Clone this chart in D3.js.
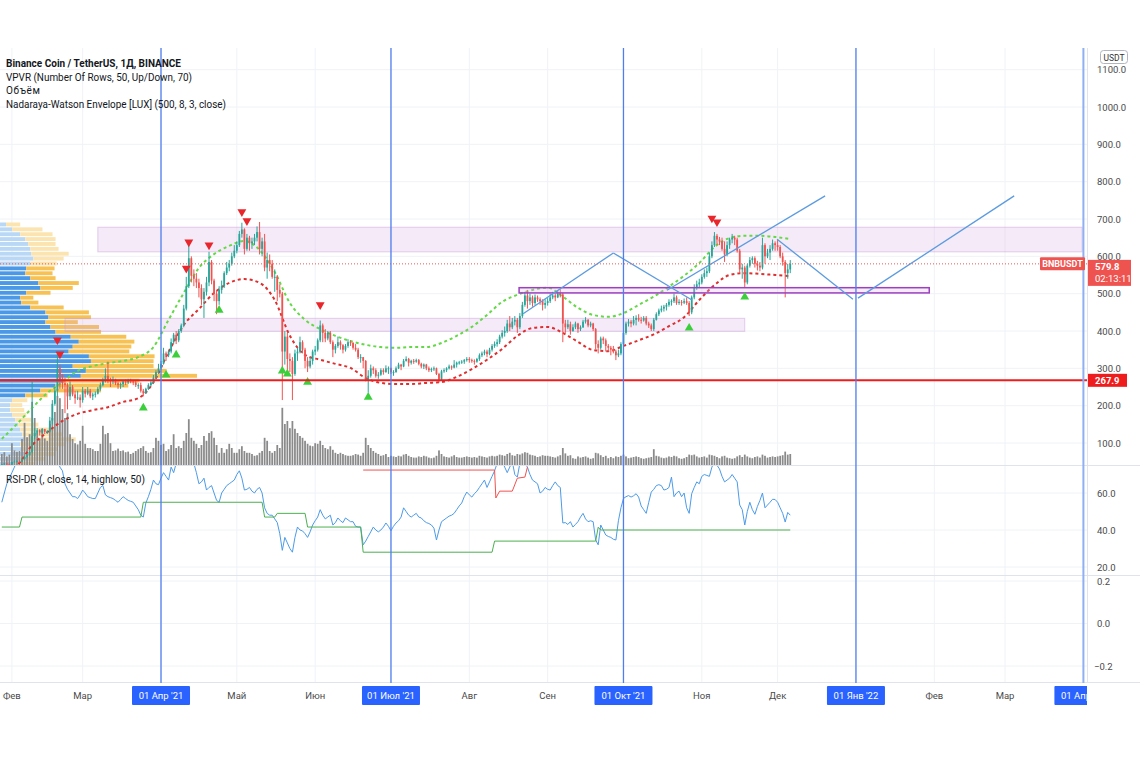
<!DOCTYPE html>
<html><head><meta charset="utf-8">
<script src="https://cdn.jsdelivr.net/npm/d3@7"></script>
<style>
html,body{margin:0;padding:0;background:#fff;}
svg{display:block;font-family:Roboto,"Noto Sans",sans-serif;}
</style></head><body>
<svg id="chart" width="1140" height="760"></svg>
<script>
// ---------------- DATA ----------------
const startDate = "2021-01-28"; // first daily candle, last = 2021-12-06
const closes = [43,45,44,42,
49,51,51,50,57,63,67,76,118,127,134,128,137,130,131,160,205,240,300,270,260,255,225,250,230,220,222,215,
240,232,240,225,230,232,245,255,268,280,270,265,270,260,255,258,265,262,268,265,262,255,255,240,233,245,255,262,275,290,300,
312,340,335,345,370,390,375,400,415,460,520,595,548,540,530,515,485,505,530,585,535,500,480,510,520,555,570,580,600,615,
630,660,672,620,650,635,640,650,665,620,640,570,590,580,545,545,510,500,345,385,325,320,285,340,345,370,350,320,305,320,345,
350,375,415,395,380,395,370,350,360,370,362,350,360,370,368,355,350,330,330,320,270,280,300,295,280,283,295,290,300,300,
290,290,300,310,305,320,325,315,320,318,322,312,305,310,300,295,298,300,285,270,292,295,300,305,302,310,315,316,318,322,325,
322,320,318,325,335,340,345,338,350,360,365,370,385,395,400,420,410,425,430,410,440,470,495,480,490,475,490,485,480,470,475,
480,490,495,490,500,498,420,410,418,400,410,420,405,410,425,430,415,420,405,365,355,380,375,360,355,350,345,335,340,365,
395,420,425,420,430,435,430,428,435,420,415,405,430,445,455,460,465,470,478,480,490,475,478,476,480,475,450,490,515,525,530,
545,555,560,600,630,655,645,640,620,605,630,645,650,645,615,565,570,530,575,590,595,580,575,570,630,600,610,620,635,630,
625,600,585,555,565,579.8];
const highs = [44,46,46,45,
50,53,53,53,58,64,70,78,265,140,140,137,140,138,134,170,215,250,345,310,285,275,260,265,255,240,240,230,
250,245,250,245,235,238,250,262,275,300,318,275,278,272,265,262,268,270,272,272,268,268,260,262,245,248,260,268,282,295,312,
320,355,345,350,380,395,400,405,420,470,545,635,600,565,555,540,525,515,545,612,590,540,510,520,535,560,585,590,610,630,
640,668,690,675,660,655,650,660,680,692,650,660,610,605,590,565,550,525,505,400,395,340,330,350,355,385,375,355,330,330,350,
360,380,428,420,405,400,400,375,365,385,375,365,365,378,375,370,365,355,338,330,322,295,310,305,300,290,300,300,308,305,
302,295,305,315,312,325,332,328,323,325,326,325,315,313,312,305,302,305,302,288,296,300,303,310,308,322,318,320,322,325,330,
330,326,324,328,340,345,350,350,355,365,372,378,390,402,412,430,440,435,440,435,448,478,505,510,500,495,498,495,490,485,485,
488,500,505,500,508,512,502,430,430,425,418,425,422,415,430,437,432,425,422,408,375,385,385,380,365,360,360,350,350,370,
400,425,432,430,440,442,445,438,440,440,425,420,435,450,460,468,470,475,485,485,500,495,485,483,487,490,480,495,525,535,540,
552,565,570,610,640,665,660,652,650,640,640,650,660,655,650,620,580,575,580,598,600,600,588,585,650,635,620,630,645,640,
645,630,610,590,580,590];
const lows = [38,42,42,40,
41,48,49,48,49,56,61,67,73,110,122,120,125,124,125,128,150,200,225,245,245,180,190,215,225,205,215,195,
208,222,228,220,215,222,230,240,252,262,260,250,258,255,245,245,250,255,258,260,255,250,245,235,225,232,242,252,258,272,285,
296,310,320,330,340,365,365,370,395,410,455,515,530,520,515,490,470,435,495,520,525,480,445,470,500,515,550,560,575,595,
608,625,650,605,615,615,620,630,640,605,600,560,540,560,540,505,480,490,215,310,290,290,215,280,320,340,340,300,290,300,310,
335,345,370,370,370,375,365,330,340,355,350,340,345,355,360,350,345,325,315,300,265,235,275,285,275,272,280,283,288,285,
285,280,288,298,295,303,318,305,310,312,315,308,300,298,295,290,290,293,282,262,268,288,290,297,296,300,302,310,312,312,318,
315,315,310,315,320,330,335,330,335,345,355,358,365,380,385,395,400,405,415,395,405,435,465,460,470,465,470,478,470,455,460,
468,475,485,480,488,490,370,395,405,390,398,405,395,400,408,420,410,410,400,350,340,350,365,345,345,335,340,322,330,335,
360,390,412,410,415,415,425,420,425,415,408,400,400,428,440,450,452,455,465,468,475,470,470,468,472,470,440,445,485,510,515,
525,540,545,555,595,625,630,630,615,585,600,620,635,630,610,555,540,515,525,570,580,570,562,560,565,580,595,590,615,615,
615,595,575,490,540,555];
// volume, million BNB
const volumes = [2.0,2.3,1.6,1.9,
3.8,2.6,2.4,2.5,4.5,7.2,4.8,5.3,10.7,8.0,5.5,4.6,6.2,4.6,4.2,7.0,8.0,9.0,11.7,11.3,9.5,8.0,8.8,5.3,4.5,3.8,3.6,4.2,
6.7,3.7,3.0,3.0,2.8,2.5,2.5,3.7,6.7,5.3,5.5,3.8,2.5,2.6,2.9,2.5,2.6,2.3,2.4,2.0,2.2,2.5,2.8,3.0,3.3,2.5,2.2,2.3,3.0,4.7,4.2,
3.5,3.7,2.5,2.8,3.5,5.3,3.0,3.3,3.0,4.2,5.5,7.8,4.7,4.2,3.7,3.0,3.5,5.0,4.2,5.5,5.8,4.7,3.5,2.2,3.0,2.2,2.8,3.7,3.0,2.2,
2.2,2.8,3.3,2.5,2.2,2.2,2.0,1.7,1.8,2.2,2.5,4.7,4.2,2.5,2.2,2.5,3.5,3.0,9.7,7.0,7.5,6.3,7.5,6.2,5.5,5.0,4.7,4.2,3.7,3.4,3.3,
3.8,3.7,4.2,3.5,3.0,2.8,3.3,2.7,2.2,2.0,2.2,2.0,1.8,1.7,1.7,1.8,2.0,1.9,1.7,2.2,4.7,3.5,3.0,2.5,2.2,2.0,1.7,1.8,2.0,1.5,
1.7,1.6,1.5,1.7,1.6,1.9,2.0,1.7,1.5,1.4,1.4,1.6,1.5,1.7,1.6,1.4,1.3,1.4,1.7,2.6,2.0,1.6,1.5,1.4,1.6,1.8,1.5,1.4,1.4,1.5,1.6,
1.5,1.4,1.5,1.4,1.7,1.6,1.5,1.4,1.6,1.7,1.6,1.7,1.9,1.8,1.7,2.0,2.2,1.8,1.7,2.0,1.9,2.1,2.3,2.2,1.9,1.8,1.7,1.5,1.6,1.8,1.7,
1.7,1.6,1.5,1.4,1.6,1.8,3.0,2.1,1.7,1.8,1.3,1.2,1.6,1.4,1.5,1.6,1.4,1.2,1.3,2.2,2.1,1.8,1.5,1.7,1.3,1.5,1.3,1.6,1.5,1.7,
1.9,1.6,1.3,1.4,1.5,1.6,1.5,1.3,1.2,1.3,1.4,1.5,2.8,1.7,1.6,1.4,1.3,1.4,1.6,1.5,1.7,1.6,1.3,1.2,1.3,1.5,1.9,1.8,1.9,1.6,1.4,
1.5,1.6,1.4,1.9,1.8,1.7,1.5,1.3,1.6,1.7,1.4,1.3,1.2,1.3,1.6,1.8,1.5,1.9,1.6,1.4,1.3,1.5,1.6,1.4,1.9,1.7,1.4,1.5,1.6,1.5,
1.6,1.7,1.8,2.4,1.9,2.0];
const rsiValues = [55,60,65,68,71,74,78,80,82,85,88,92,93,93,92,90,88,86,85,87,89,88,78,74,72,65,62,60,58,58,57,59,
61.6,60,58,57.5,57,57,60,63,64,59,58,57.5,57,56,55,56.5,58,57,56,55.5,55,53,51,48,47,54.6,58,62,67,65,64.5,
68,71,69,67,74,71,76,80,83,86,88,82,80,76,71,65,66,68,61.6,63,64,60,56,55,60,62,64,65,66,67,
70,72,68,61.6,62,63,61,60,62,63,60,52,49,48,48,46,44,38,29,36,33,30,28,36,41.6,40,39.5,38,36,39,42.7,
45,47,51,48,46,47,48,42.7,44,46.5,45,44,46.5,45.5,44.5,44.5,42,41.6,41.6,32,34,36.5,39,41.6,40,39,40,41.6,43.8,42,
39.6,42,43.8,45,47,52,50,48,47,48,49,47,46.5,45,44,43.5,42.7,41,34.6,40,44.5,45.5,46.5,47.5,48,49,51,53,54.6,58,60.5,
59,57.8,59.6,61,63,65,67,63,66,69,72,76,78,77,74,71,74,77,70,68.6,76,78,76,74,70,67,66,65,60,61,63,
62,61.6,64,66,64,63,43.8,44,43,44.5,41.6,43,44.5,47,49,46,44.5,45,44.5,34.6,32,42.7,40,37.3,36.5,36,35,34.6,45,52,
57,58,58.6,57.8,58.5,59.6,57.8,53,51,49,55,60.5,62,64,64.5,64,61.6,62,63,68.6,58,60,61,58,60,52,49,59.6,63,66,65,
69,70,69.5,69,74,77,75,73,69,66,67,68,70,68,66,53.5,51,42.7,50,55,51,48.5,52.7,56,60,52,53.5,55,56.6,56.5,
55,52,49,44.3,49.5,48];
// RSI-DR lower / upper levels: [day index, value]
const rsiLowerLevel = [[0,41.6],[7,41.6],[8,47],[55,47],[56,55],[103,55],[104,47],[108,47],[109,49],[120,49],[121,41.6],[142,41.6],[143,28],[194,28],[195,34],[235,34],[236,41.5],[237,40],[312,40]];
const rsiUpperLevel = [[143,72.4],[195,72.4],[195.5,57.3],[197,61],[202,61],[204,68],[207,68.6],[208,74]];
// Nadaraya-Watson envelope, sampled every 6 days
const envIdx = d3.range(0, 313, 6);
const envUpper = [111,151,194,234,263,293,306,314,320,330,357,430,502,569,606,628,641,617,558,475,430,405,387,373,363,357,355,357,357,368,387,411,443,478,497,510,516,492,462,443,438,448,470,492,519,548,582,625,649,655,655,652,646];
const envLower = [28,41,94,129,159,178,188,196,210,220,262,344,416,459,502,529,539,529,483,387,336,323,312,301,274,261,258,258,261,263,277,298,323,352,387,408,411,395,371,349,346,360,375,391,413,437,483,523,550,555,553,550,547];
// signals
const sellIdx = [22,23,73,74,82,95,97,126,281,283];
const sellLevel = [376,338,568,638,630,719,695,470,702,692];
const buyIdx = [56,65,69,86,111,113,121,145,272,294];
const buyLevel = [194,282,336,456,293,285,263,223,408,491];
// VPVR 50 rows, bottom row first (up / down volume)
const vpvrUp = [15,20,25,22,20,25,22,20,18,15,12,10,10,12,25,40,55,63,80,85,72,90,88,68,72,78,70,55,50,45,48,45,30,21,20,26,40,38,30,25,26,30,33,31,30,28,25,20,12,6];
const vpvrDown = [20,25,30,35,45,50,40,35,20,16,14,14,12,15,22,60,72,75,115,80,80,62,65,60,58,55,55,45,48,32,42,43,33,17,13,24,32,40,25,27,28,26,30,37,28,27,30,32,30,14];
// drawings: zones [startIdx, endIdx, topPrice, bottomPrice]
const zones = [[38,427.5,678,612],[25,294,434,399]];
const boxZone = [204.7,367,516,502];
// trend lines [[idx,price],[idx,price]]
const trendLines = [[[206.3,446],[242,609]],[[242,609],[273.1,483]],[[263.2,509],[325.8,762]],[[306.8,646],[336.8,485]],[[338.8,488],[400.6,762]]];
const hLevel = 267.9;
const lastPrice = 579.8;
const priceTicks = [100,200,300,400,500,600,700,800,900,1000,1100];
const rsiTicks = [20,40,60];
const p3Ticks = [0.2,0,-0.2];
const monthNames = ["Янв","Фев","Мар","Апр","Май","Июн","Июл","Авг","Сен","Окт","Ноя","Дек"];
const legendLines = ["Binance Coin / TetherUS, 1Д, BINANCE","VPVR (Number Of Rows, 50, Up/Down, 70)","Объём","Nadaraya-Watson Envelope [LUX] (500, 8, 3, close)"];

// ---------------- LAYOUT ----------------
const plotR = 1087, mainTop = 48, mainBot = 465, rsiTop = 466, rsiBot = 575, p3Top = 576, p3Bot = 682, axTop = 683;
const svg = d3.select("#chart");
const start = new Date(startDate + "T00:00:00Z");
const x = d3.scaleUtc().domain([start, new Date(Date.UTC(2022,3,1))]).range([1.8, 1083.4]);
const dateAt = i => new Date(start.getTime() + i * 86400000);
const dx = i => x(dateAt(i));
const y = d3.scaleLinear().domain([100,1000]).range([443,107]);
const yR = d3.scaleLinear().domain([20,60]).range([567,493]);
const y3 = d3.scaleLinear().domain([-0.2,0.2]).range([666,581]);
const yV = d3.scaleLinear().domain([0,10]).range([466,406]);
const step = dx(1) - dx(0);
const bw = Math.max(1, step * 0.7);

const defs = svg.append("defs");
function clip(id, x0, y0, w, h){ defs.append("clipPath").attr("id", id).append("rect").attr("x", x0).attr("y", y0).attr("width", w).attr("height", h); }
clip("cMain", 0, mainTop, plotR, mainBot - mainTop);
clip("cRsi", 0, rsiTop, plotR, rsiBot - rsiTop);
clip("cAxis", 0, axTop, plotR, 760 - axTop);

// grid
const months = d3.utcMonth.range(new Date(Date.UTC(2021,1,1)), new Date(Date.UTC(2022,3,2)));
const grid = svg.append("g");
months.forEach(m => {
  grid.append("line").attr("x1", x(m)).attr("x2", x(m)).attr("y1", mainTop).attr("y2", p3Bot).attr("stroke", "#f0f2f6").attr("stroke-width", 1);
});
priceTicks.forEach(p => grid.append("line").attr("x1", 0).attr("x2", plotR).attr("y1", y(p)).attr("y2", y(p)).attr("stroke", "#f0f2f6"));
rsiTicks.forEach(p => grid.append("line").attr("x1", 0).attr("x2", plotR).attr("y1", yR(p)).attr("y2", yR(p)).attr("stroke", "#f0f2f6"));
p3Ticks.forEach(p => grid.append("line").attr("x1", 0).attr("x2", plotR).attr("y1", y3(p)).attr("y2", y3(p)).attr("stroke", "#f0f2f6"));

// pane separators
[mainBot + 0.5, rsiBot + 0.5, p3Bot + 0.5].forEach(v => svg.append("line").attr("x1", 0).attr("x2", 1140).attr("y1", v).attr("y2", v).attr("stroke", "#e0e3eb"));
svg.append("line").attr("x1", plotR + 0.5).attr("x2", plotR + 0.5).attr("y1", mainTop).attr("y2", axTop).attr("stroke", "#e0e3eb");

const main = svg.append("g").attr("clip-path", "url(#cMain)");

// VPVR
const lo = d3.min(lows), hi = d3.max(highs), nRows = vpvrUp.length, rowH = (hi - lo) / nRows;
const totals = vpvrUp.map((u, k) => u + vpvrDown[k]);
const poc = totals.indexOf(d3.max(totals));
const totalAll = d3.sum(totals);
let vaLo = poc, vaHi = poc, vaSum = totals[poc];
while (vaSum < 0.7 * totalAll && (vaLo > 0 || vaHi < nRows - 1)) {
  const up2 = (vaHi + 1 < nRows ? totals[vaHi + 1] : 0) + (vaHi + 2 < nRows ? totals[vaHi + 2] : 0);
  const dn2 = (vaLo - 1 >= 0 ? totals[vaLo - 1] : 0) + (vaLo - 2 >= 0 ? totals[vaLo - 2] : 0);
  if (up2 >= dn2 && vaHi < nRows - 1) { vaHi = Math.min(nRows - 1, vaHi + 2); vaSum += up2; }
  else { vaLo = Math.max(0, vaLo - 2); vaSum += dn2; }
}
const vw = d3.scaleLinear().domain([0, d3.max(totals)]).range([0, 197]);
const vp = main.append("g");
d3.range(nRows).forEach(r => {
  const yTop = y(lo + (r + 1) * rowH) + 0.5, yB = y(lo + r * rowH) - 0.5;
  const inVA = r >= vaLo && r <= vaHi;
  vp.append("rect").attr("x", 0).attr("y", yTop).attr("width", vw(vpvrUp[r])).attr("height", yB - yTop)
    .attr("fill", inVA ? "#4a98e6" : "#b9d8f6");
  vp.append("rect").attr("x", vw(vpvrUp[r])).attr("y", yTop).attr("width", vw(vpvrDown[r])).attr("height", yB - yTop)
    .attr("fill", inVA ? "#f7c253" : "#fbe4b0");
});

// zones
zones.forEach(z => {
  main.append("rect").attr("x", dx(z[0])).attr("y", y(z[2])).attr("width", dx(z[1]) - dx(z[0])).attr("height", y(z[3]) - y(z[2]))
    .attr("fill", "rgba(215,170,225,0.25)").attr("stroke", "rgba(200,150,215,0.45)").attr("stroke-width", 1);
});

// volume
main.append("g").selectAll("rect").data(volumes).join("rect")
  .attr("x", (d, i) => dx(i) - bw / 2).attr("y", d => yV(d)).attr("width", bw).attr("height", d => yV(0) - yV(d))
  .attr("fill", "#8a8a8a");

// envelopes
const envLine = arr => d3.line().curve(d3.curveMonotoneX).x((d, k) => dx(envIdx[k])).y(d => y(d))(arr);
main.append("path").attr("d", envLine(envUpper)).attr("fill", "none").attr("stroke", "#62d945").attr("stroke-width", 2).attr("stroke-dasharray", "3,3");
main.append("path").attr("d", envLine(envLower)).attr("fill", "none").attr("stroke", "#e02d2d").attr("stroke-width", 2).attr("stroke-dasharray", "3,3");

// candles
const cg = main.append("g");
closes.forEach((c, i) => {
  const o = i === 0 ? 40 : closes[i - 1];
  const col = c >= o ? "#26a69a" : "#ef5350";
  cg.append("line").attr("x1", dx(i)).attr("x2", dx(i)).attr("y1", y(highs[i])).attr("y2", y(lows[i])).attr("stroke", col).attr("stroke-width", 1);
  const t = y(Math.max(o, c)), b = y(Math.min(o, c));
  cg.append("rect").attr("x", dx(i) - bw / 2).attr("y", t).attr("width", bw).attr("height", Math.max(1, b - t)).attr("fill", col);
});

// purple box zone
main.append("rect").attr("x", dx(boxZone[0])).attr("y", y(boxZone[2])).attr("width", dx(boxZone[1]) - dx(boxZone[0])).attr("height", y(boxZone[3]) - y(boxZone[2]))
  .attr("fill", "rgba(225,190,231,0.3)").attr("stroke", "#9c3fc0").attr("stroke-width", 1.5);

// trend lines
trendLines.forEach(l => {
  main.append("line").attr("x1", dx(l[0][0])).attr("y1", y(l[0][1])).attr("x2", dx(l[1][0])).attr("y2", y(l[1][1]))
    .attr("stroke", "#5b9be0").attr("stroke-width", 1.3);
});

// signals
const tri = d3.symbol(d3.symbolTriangle, 34);
sellIdx.forEach((d, k) => main.append("path").attr("d", tri()).attr("transform", `translate(${dx(d)},${y(sellLevel[k])}) rotate(180)`).attr("fill", "#e8262c"));
buyIdx.forEach((d, k) => main.append("path").attr("d", tri()).attr("transform", `translate(${dx(d)},${y(buyLevel[k])})`).attr("fill", "#3ccf3c"));

// horizontal level & last price line
main.append("line").attr("x1", 0).attr("x2", plotR).attr("y1", y(hLevel)).attr("y2", y(hLevel)).attr("stroke", "#ee1c1c").attr("stroke-width", 2);
main.append("line").attr("x1", 0).attr("x2", plotR).attr("y1", y(lastPrice)).attr("y2", y(lastPrice)).attr("stroke", "#ef5350").attr("stroke-width", 1).attr("stroke-dasharray", "1,2");

// RSI pane
const rsiG = svg.append("g").attr("clip-path", "url(#cRsi)");
rsiG.append("path").attr("d", d3.line().x((d, i) => dx(i)).y(d => yR(d))(rsiValues)).attr("fill", "none").attr("stroke", "#4c9be8").attr("stroke-width", 1);
rsiG.append("path").attr("d", d3.line().x(d => dx(d[0])).y(d => yR(d[1]))(rsiLowerLevel)).attr("fill", "none").attr("stroke", "#4caf50").attr("stroke-width", 1);
rsiG.append("path").attr("d", d3.line().x(d => dx(d[0])).y(d => yR(d[1]))(rsiUpperLevel)).attr("fill", "none").attr("stroke", "#ef5350").attr("stroke-width", 1);

// quarter vertical lines
const quarters = months.filter(m => m.getUTCMonth() % 3 === 0);
quarters.forEach((m, k) => {
  const last = k === quarters.length - 1;
  svg.append("line").attr("x1", x(m)).attr("x2", x(m)).attr("y1", mainTop).attr("y2", axTop)
    .attr("stroke", last ? "#8fb0f2" : "#4f7fee").attr("stroke-width", last ? 2 : 1.3);
});

// legend
const legW = [175, 186, null, 220];
legendLines.forEach((t, k) => {
  const tx = svg.append("text").attr("x", 6).attr("y", 67 + k * 13.5).text(t)
    .attr("font-size", 10.5).attr("font-weight", k === 0 ? 700 : 400).attr("fill", "#131722");
  if (legW[k]) tx.attr("textLength", legW[k]).attr("lengthAdjust", "spacingAndGlyphs");
  else tx.attr("font-size", 10).attr("textLength", 34).attr("lengthAdjust", "spacing");
});
svg.append("text").attr("x", 6).attr("y", 483).text("RSI-DR (, close, 14, highlow, 50)").attr("font-size", 10.5).attr("fill", "#131722")
  .attr("textLength", 139).attr("lengthAdjust", "spacingAndGlyphs");

// price axis labels
const axTxt = "#4a4a4a";
priceTicks.forEach(p => svg.append("text").attr("x", 1097).attr("y", y(p) + 3.5).text(p.toFixed(1)).attr("font-size", 9.5).attr("fill", axTxt));
rsiTicks.forEach(p => svg.append("text").attr("x", 1097).attr("y", yR(p) + 3.5).text(p.toFixed(1)).attr("font-size", 9.5).attr("fill", axTxt));
p3Ticks.forEach(p => svg.append("text").attr("x", p < 0 ? 1094 : 1097).attr("y", y3(p) + 3.5).text(p < 0 ? "\u2212" + Math.abs(p).toFixed(1) : p.toFixed(1)).attr("font-size", 9.5).attr("fill", axTxt));

// USDT badge (kept just above the top tick label)
svg.append("rect").attr("x", 1100.5).attr("y", 50.5).attr("width", 27).attr("height", 13).attr("rx", 3).attr("fill", "#fff").attr("stroke", "#b2b5be");
svg.append("text").attr("x", 1114).attr("y", 60.5).attr("text-anchor", "middle").text("USDT").attr("font-size", 8.5).attr("fill", "#333");

// last price labels
const lpY = y(lastPrice);
svg.append("rect").attr("x", 1040).attr("y", lpY - 6.5).attr("width", 45).attr("height", 13).attr("rx", 1).attr("fill", "#ef5350");
svg.append("text").attr("x", 1062.5).attr("y", lpY + 3.5).attr("text-anchor", "middle").text("BNBUSDT").attr("font-size", 9).attr("font-weight", 700).attr("fill", "#fff");
svg.append("rect").attr("x", 1088).attr("y", lpY - 4).attr("width", 43).attr("height", 26).attr("fill", "#ef5350");
svg.append("text").attr("x", 1095).attr("y", lpY + 6).text(lastPrice.toFixed(1)).attr("font-size", 9.5).attr("font-weight", 700).attr("fill", "#fff");
svg.append("text").attr("x", 1095).attr("y", lpY + 18).text("02:13:11").attr("font-size", 9.5).attr("fill", "#fff");
// level label
svg.append("rect").attr("x", 1088).attr("y", y(hLevel) - 6.5).attr("width", 39).attr("height", 13).attr("fill", "#ee1c1c");
svg.append("text").attr("x", 1095).attr("y", y(hLevel) + 3.5).text(hLevel.toFixed(1)).attr("font-size", 9.5).attr("font-weight", 700).attr("fill", "#fff");

// time axis
const axG = svg.append("g").attr("clip-path", "url(#cAxis)");
months.forEach(m => {
  const mi = m.getUTCMonth();
  if (mi % 3 === 0) {
    const yy = String(m.getUTCFullYear()).slice(2);
    axG.append("rect").attr("x", x(m) - 29).attr("y", 686).attr("width", 58).attr("height", 19).attr("rx", 1).attr("fill", "#2962ff");
    axG.append("text").attr("x", x(m)).attr("y", 699).attr("text-anchor", "middle").text(`01 ${monthNames[mi]} '${yy}`).attr("font-size", 9.5).attr("fill", "#fff");
  } else {
    axG.append("text").attr("x", x(m)).attr("y", 699).attr("text-anchor", "middle").text(monthNames[mi]).attr("font-size", 9.5).attr("fill", "#4a4a4a");
  }
});
</script>
</body></html>
